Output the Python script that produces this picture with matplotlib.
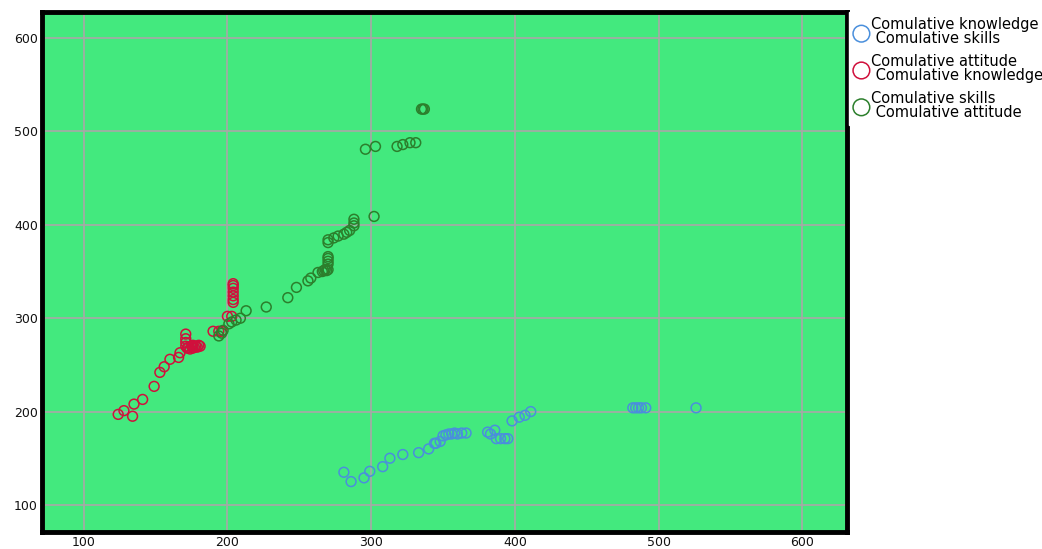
import matplotlib.pyplot as plt

plt.rcParams['font.family'] = ['DejaVu Sans']

# Comulative knowledge (x) vs Comulative skills (y)
know_x = [281, 286, 295, 299, 308, 313, 322, 333, 340, 345, 344, 348,
          350, 352, 354, 356, 358, 360, 363, 366, 381, 383, 386,
          387, 390, 393, 395, 398, 403, 407, 411,
          482, 484, 486, 488, 491, 526]
skills_y = [135, 125, 129, 136, 141, 150, 154, 156, 160, 166, 166, 168,
            174, 175, 176, 176, 177, 176, 177, 177, 178, 176, 180,
            171, 171, 171, 171, 190, 194, 196, 200,
            204, 204, 204, 204, 204, 204]

# Comulative attitude (x) vs Comulative knowledge (y)
att_x = [124, 128, 134, 135, 141, 149, 153, 156, 160, 166, 167,
         171, 171, 171, 171,
         172, 173, 174, 175, 176, 177, 178, 179, 180, 176, 181,
         190, 194, 196, 200, 203,
         204, 204, 204, 204, 204, 204, 204]
know_y = [197, 201, 195, 208, 213, 227, 242, 248, 256, 258, 263,
          270, 274, 278, 283,
          268, 269, 267, 270, 268, 269, 270, 269, 271, 271, 270,
          286, 286, 286, 302, 302,
          317, 320, 324, 328, 332, 335, 337]

# Comulative skills (x) vs Comulative attitude (y)
skill_x = [194, 196, 197, 201, 203, 206, 209, 213, 227, 242, 248, 256, 258,
           263, 266, 267, 268, 269, 270, 270, 270, 270, 270, 270, 270,
           274, 277, 281, 283, 285, 288, 288, 288, 302,
           296, 303, 318, 322, 327, 331, 335, 336, 337]
att_y = [281, 284, 287, 294, 296, 298, 300, 308, 312, 322, 333, 340, 343,
         349, 350, 351, 352, 351, 352, 358, 361, 364, 366, 381, 384,
         386, 388, 390, 392, 394, 399, 402, 406, 409,
         481, 484, 484, 486, 488, 488, 524, 524, 524]

labels = ['Comulative knowledge\n Comulative skills',
          'Comulative attitude\n Comulative knowledge',
          'Comulative skills\n Comulative attitude']
colors = ['#4a8fdc', '#d0103c', '#2c7f2c']

fig = plt.figure(figsize=(10.42, 5.49), dpi=100)
ax = fig.add_axes([42 / 1042, 17 / 549, 805 / 1042, 520 / 549])
ax.set_facecolor('#43e97e')

for xs, ys, c, lab in zip([know_x, att_x, skill_x], [skills_y, know_y, att_y], colors, labels):
    ax.scatter(xs, ys, s=50, facecolors='none', edgecolors=c, linewidths=1.1, label=lab, zorder=3)

ax.set_xlim(71, 631)
ax.set_ylim(71, 628)
ax.set_xticks([100, 200, 300, 400, 500, 600])
ax.set_yticks([100, 200, 300, 400, 500, 600])
ax.grid(True, color='#a8a8a8', linewidth=1.2)
ax.set_axisbelow(True)
ax.tick_params(length=0, labelsize=9, colors='#111111', pad=3)
for sp in ax.spines.values():
    sp.set_linewidth(3.5)
    sp.set_color('black')

leg = fig.legend(loc='upper left', bbox_to_anchor=(849 / 1042, 1 - 12 / 549),
                 frameon=True, fancybox=False, edgecolor='white', facecolor='white',
                 fontsize=10.5, markerscale=1.7, handletextpad=0.15, handlelength=1.0,
                 borderpad=0.35, borderaxespad=0, labelspacing=0.55)
for t in leg.get_texts():
    t.set_linespacing(0.9)
leg.get_frame().set_alpha(1)

fig.savefig('out.png', dpi=100)
